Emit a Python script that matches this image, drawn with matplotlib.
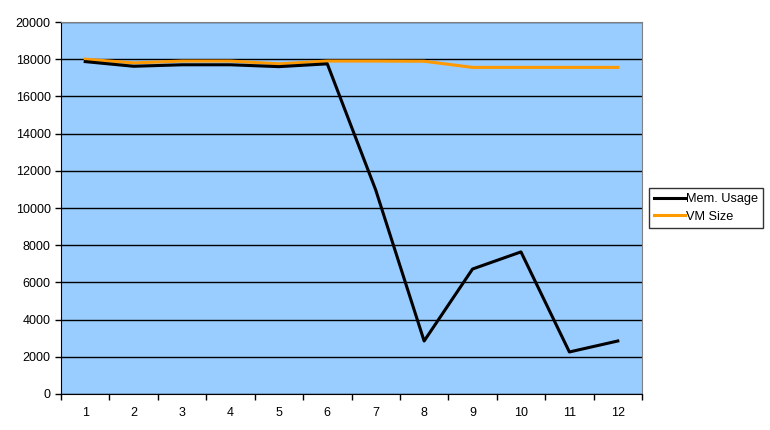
import matplotlib
matplotlib.use("Agg")
import matplotlib.pyplot as plt
import numpy as np

# valores
categorias = [1, 2, 3, 4, 5, 6, 7, 8, 9, 10, 11, 12]
mem_usage = [17870, 17620, 17700, 17700, 17600, 17750, 10970, 2850, 6720, 7640, 2260, 2850]
vm_size = [18000, 17800, 17900, 17900, 17750, 17900, 17900, 17890, 17560, 17560, 17560, 17560]

plt.rcParams['font.family'] = ['Liberation Sans', 'DejaVu Sans']

fig = plt.figure(figsize=(7.7, 4.3), dpi=100)
ax = fig.add_axes([61 / 770, 36 / 430, 581 / 770, 372 / 430])
ax.set_facecolor('#99CCFF')

x = np.arange(len(categorias)) + 1
ax.plot(x, mem_usage, color='black', linewidth=2.2, label='Mem. Usage', zorder=4)
ax.plot(x, vm_size, color='#FF9900', linewidth=2.2, label='VM Size', zorder=3)

ax.set_xlim(0.5, len(categorias) + 0.5)
ax.set_ylim(0, 20000)
ax.set_yticks(np.arange(0, 20001, 2000))
ax.yaxis.grid(True, color='black', linewidth=1)
ax.set_axisbelow(True)

ax.set_xticks(x)
ax.set_xticklabels([str(c) for c in categorias])
ax.set_xticks(np.arange(0.5, len(categorias) + 1, 1), minor=True)
ax.tick_params(axis='x', which='major', length=0, pad=9, labelsize=9)
ax.tick_params(axis='x', which='minor', length=4, direction='out', width=1)
ax.tick_params(axis='y', length=4, direction='out', width=1, labelsize=9)

for s in ['top', 'right']:
    ax.spines[s].set_color('#808080')
for s in ['left', 'bottom']:
    ax.spines[s].set_color('black')

leg = ax.legend(loc='center left', bbox_to_anchor=(1.008, 0.5), fontsize=9.2,
                frameon=True, fancybox=False, edgecolor='black',
                handlelength=2.4, handletextpad=0.1, borderpad=0.4, labelspacing=0.45,
                borderaxespad=0.2)
leg.get_frame().set_linewidth(1)

fig.savefig('out.png', dpi=100)
